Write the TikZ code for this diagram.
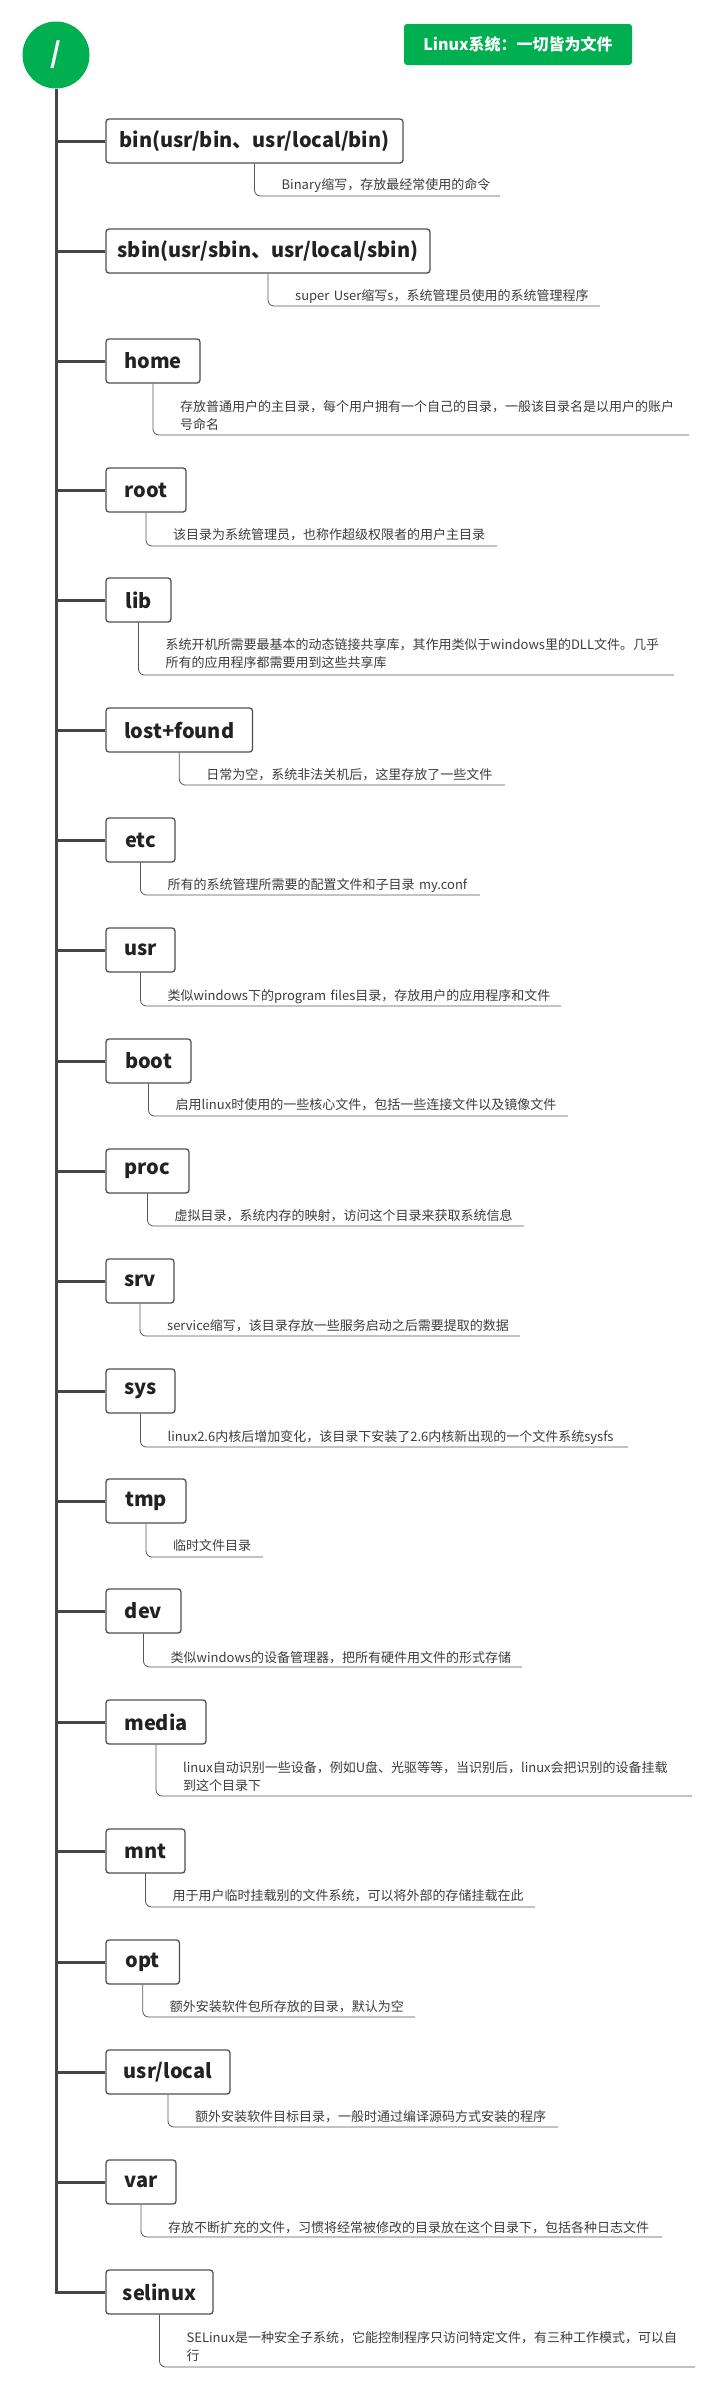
\documentclass[tikz,border=0pt]{standalone}
\usepackage{fontspec}
\setmainfont{Noto Sans CJK SC}
\definecolor{brandgreen}{HTML}{00B050}
\definecolor{trunkgray}{HTML}{464646}
\definecolor{boxgray}{HTML}{505050}
\definecolor{labelgray}{HTML}{222222}
\definecolor{descgray}{HTML}{3C3C3C}
\definecolor{twiggray}{HTML}{555555}
\tikzset{
  trunk/.style={draw=trunkgray, line width=3pt},
  dirbox/.style={draw=boxgray, line width=1.3pt, fill=white, rounded corners=3pt,
    minimum height=44pt, inner sep=0pt, text=labelgray,
    font=\fontsize{20}{24}\selectfont\bfseries},
  desc/.style={inner sep=0pt, align=left, text width=540pt, text=descgray,
    font=\fontsize{13}{18}\selectfont},
  twig/.style={draw=twiggray, line width=0.8pt},
}
% #1 name, #2 label, #3 box width, #4 box centre y, #5 description,
% #6 first baseline y, #7 underline y, #8 underline right x
\newcommand\diritem[8]{%
  \node[dirbox, minimum width=#3pt] (b#1) at ({106+#3/2}, #4) {#2};
  \draw[trunk] (root |- b#1.west) -- (b#1.west);
  \node[desc, anchor=base west] (d#1) at ({133+#3/2}, #6) {#5};
  \coordinate (u#1) at (#8, #7);
  \draw[twig] (b#1.south) -- ([yshift=6pt]b#1.south |- u#1)
    to[out=-90, in=180] ([xshift=6pt]b#1.south |- u#1) -- (u#1);
}
\begin{document}
\begin{tikzpicture}[x=1pt, y=-1pt]
\useasboundingbox (0,0) rectangle (713,2388);
\node[circle, fill=brandgreen, minimum size=67pt, inner sep=0pt, text=white,
  font=\fontsize{28}{30}\selectfont\bfseries] (root) at (56,55) {/};
\node[fill=brandgreen, rounded corners=3pt, minimum width=228pt, minimum height=41pt,
  inner sep=0pt, text=white, font=\fontsize{16}{18}\selectfont\bfseries]
  (title) at (518,44.5) {Linux系统：一切皆为文件};

\diritem{1}{bin(usr/bin、usr/local/bin)}{297}{141}{Binary缩写，存放最经常使用的命令}{189}{196}{500}
\diritem{2}{sbin(usr/sbin、usr/local/sbin)}{324}{251}{super User缩写s，系统管理员使用的系统管理程序}{300}{306}{600}
\diritem{3}{home}{94}{361}{存放普通用户的主目录，每个用户拥有一个自己的目录，一般该目录名是以用户的账户\\号命名}{411}{435}{689}
\diritem{4}{root}{80}{490}{该目录为系统管理员，也称作超级权限者的用户主目录}{539}{546}{497}
\diritem{5}{lib}{65}{600}{系统开机所需要最基本的动态链接共享库，其作用类似于windows里的DLL文件。几乎\\所有的应用程序都需要用到这些共享库}{649}{675}{674}
\diritem{6}{lost+found}{146.5}{730}{日常为空，系统非法关机后，这里存放了一些文件}{779}{785}{505}
\diritem{7}{etc}{69}{840}{所有的系统管理所需要的配置文件和子目录 my.conf}{889}{895}{480}
\diritem{8}{usr}{69}{950}{类似windows下的program files目录，存放用户的应用程序和文件}{1000}{1006}{561}
\diritem{9}{boot}{85}{1061}{启用linux时使用的一些核心文件，包括一些连接文件以及镜像文件}{1109}{1116}{568}
\diritem{10}{proc}{83}{1171}{虚拟目录，系统内存的映射，访问这个目录来获取系统信息}{1220}{1226}{524}
\diritem{11}{srv}{68}{1281}{service缩写，该目录存放一些服务启动之后需要提取的数据}{1330}{1336}{520}
\diritem{12}{sys}{69}{1391}{linux2.6内核后增加变化，该目录下安装了2.6内核新出现的一个文件系统sysfs}{1441}{1447}{628}
\diritem{13}{tmp}{80}{1501}{临时文件目录}{1550}{1557}{263}
\diritem{14}{dev}{75}{1611}{类似windows的设备管理器，把所有硬件用文件的形式存储}{1662}{1667}{522}
\diritem{15}{media}{100}{1722}{linux自动识别一些设备，例如U盘、光驱等等，当识别后，linux会把识别的设备挂载\\到这个目录下}{1772}{1796}{692}
\diritem{16}{mnt}{79}{1851}{用于用户临时挂载别的文件系统，可以将外部的存储挂载在此}{1900}{1907}{535}
\diritem{17}{opt}{73.5}{1962}{额外安装软件包所存放的目录，默认为空}{2011}{2017}{415}
\diritem{18}{usr/local}{124}{2072}{额外安装软件目标目录，一般时通过编译源码方式安装的程序}{2121}{2127}{558}
\diritem{19}{var}{70}{2182}{存放不断扩充的文件，习惯将经常被修改的目录放在这个目录下，包括各种日志文件}{2232}{2237}{662}
\diritem{20}{selinux}{107}{2292}{SELinux是一种安全子系统，它能控制程序只访问特定文件，有三种工作模式，可以自\\行}{2342}{2367}{695}

\draw[trunk] (root.south) -- ([yshift=-1.5pt]root |- b20.west);
\end{tikzpicture}
\end{document}
